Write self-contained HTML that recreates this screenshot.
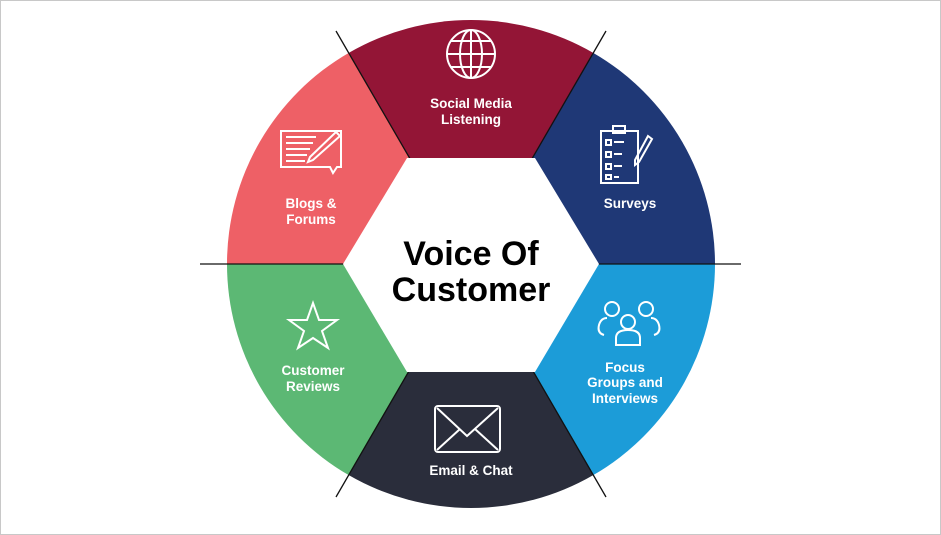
<!DOCTYPE html>
<html><head><style>
html,body{margin:0;padding:0;background:#fff;}
svg{display:block;}
text{font-family:"Liberation Sans",sans-serif;}
</style></head><body>
<svg width="941" height="535" viewBox="0 0 941 535" xmlns="http://www.w3.org/2000/svg">
<rect x="0.5" y="0.5" width="940" height="534" fill="#fff" stroke="#c8c8c8"/>
<!-- sectors -->
<path d="M471,264 L349,52.7 A244,244 0 0 1 593,52.7 Z" fill="#931536"/>
<path d="M471,264 L593,52.7 A244,244 0 0 1 715,264 Z" fill="#1F3876"/>
<path d="M471,264 L715,264 A244,244 0 0 1 593,475.3 Z" fill="#1C9CD8"/>
<path d="M471,264 L593,475.3 A244,244 0 0 1 349,475.3 Z" fill="#2A2D3B"/>
<path d="M471,264 L349,475.3 A244,244 0 0 1 227,264 Z" fill="#5CB874"/>
<path d="M471,264 L227,264 A244,244 0 0 1 349,52.7 Z" fill="#EE6066"/>
<!-- lines -->
<g stroke="#111" stroke-width="1.3">
<line x1="200" y1="264" x2="741" y2="264"/>
<line x1="336" y1="31" x2="606" y2="497"/>
<line x1="606" y1="31" x2="336" y2="497"/>
</g>
<polygon points="343,264 407,158 535,158 599,264 535,372 407,372" fill="#fff"/>
<text x="471" y="265" font-size="34" font-weight="bold" text-anchor="middle" fill="#000">Voice Of</text>
<text x="471" y="301" font-size="34" font-weight="bold" text-anchor="middle" fill="#000">Customer</text>
<!-- icons -->
<g fill="none" stroke="#fff" stroke-width="2">
 <!-- globe -->
 <circle cx="471" cy="54" r="24"/>
 <ellipse cx="471" cy="54" rx="11" ry="24"/>
 <line x1="471" y1="30" x2="471" y2="78"/>
 <line x1="447" y1="54" x2="495" y2="54"/>
 <path d="M451,41 H491 M451,67 H491"/>
 <!-- blog -->
 <path d="M281,131 H341 V167 H337 L333,173 L330,167 H281 Z"/>
 <path d="M286,137 H316 M286,143 H313 M286,149 H310 M286,155 H307 M286,161 H305"/>
 <path d="M336,132 L340,136 L313,160 L308,162 L310,157 Z"/>
 <!-- clipboard -->
 <rect x="601" y="131" width="37" height="52"/>
 <rect x="613" y="126" width="12" height="7"/>
 <path d="M606,140 h5 v5 h-5z M606,152 h5 v5 h-5z M606,164 h5 v5 h-5z M606,175 h5 v4 h-5z M614,142 h10 M614,154 h8 M614,166 h8 M614,177 h5"/>
 <path d="M648,136 L652,139 L639,162 L635,165 L635,160 Z"/>
 <!-- star -->
 <polygon points="313,303 319,320 337,320 322,331 328,348 313,338 298,348 304,331 289,320 307,320"/>
 <!-- people -->
 <circle cx="612" cy="309" r="7"/>
 <circle cx="646" cy="309" r="7"/>
 <circle cx="628" cy="322" r="7"/>
 <path d="M604,335 Q597,333 599,325 Q601,318 607,318 M654,335 Q661,333 659,325 Q657,318 651,318"/>
 <path d="M616,345 V338 Q616,330 628,330 Q640,330 640,338 V345 Z"/>
 <!-- envelope -->
 <rect x="435" y="406" width="65" height="46" rx="3"/>
 <path d="M437,408 L467,436 L498,408 M437,450 L460,429 M498,450 L475,429"/>
</g>
<g fill="#fff" font-size="13.5" font-weight="bold" text-anchor="middle">
 <text x="471" y="108">Social Media</text>
 <text x="471" y="124">Listening</text>
 <text x="311" y="208">Blogs &amp;</text>
 <text x="311" y="224">Forums</text>
 <text x="630" y="208">Surveys</text>
 <text x="313" y="375">Customer</text>
 <text x="313" y="391">Reviews</text>
 <text x="625" y="372">Focus</text>
 <text x="625" y="387">Groups and</text>
 <text x="625" y="403">Interviews</text>
 <text x="471" y="475">Email &amp; Chat</text>
</g>
</svg>
</body></html>
